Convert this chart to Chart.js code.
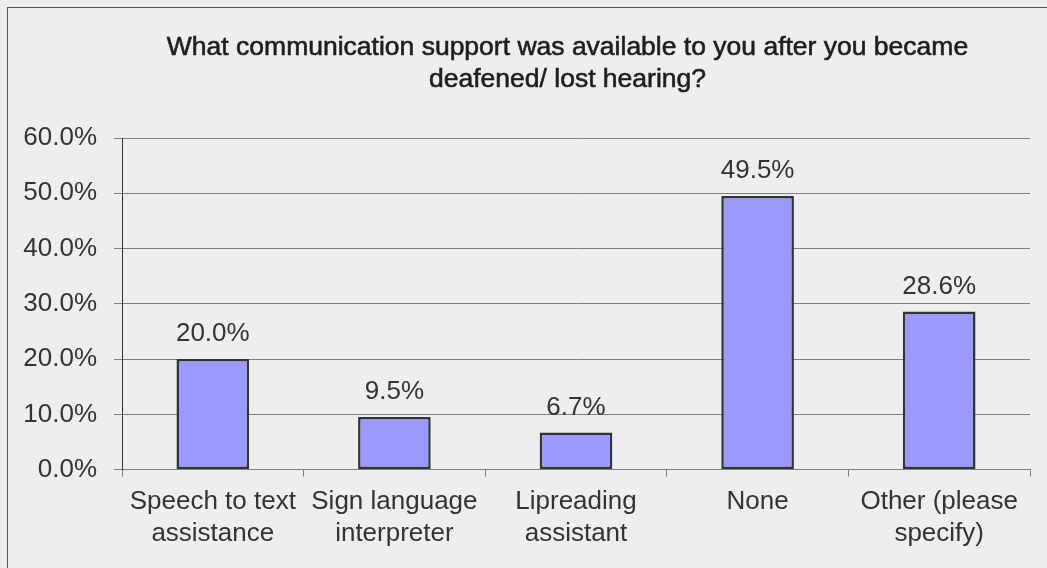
<!DOCTYPE html>
<html><head><meta charset="utf-8">
<script src="https://cdn.jsdelivr.net/npm/chart.js@4.4.1/dist/chart.umd.min.js"></script>
<style>
html,body{margin:0;padding:0;background:#eeeeee;overflow:hidden;}
#wrap{position:relative;width:1047px;height:568px;}
#frame{position:absolute;left:7px;top:7px;width:1100px;height:620px;border:1px solid #555;box-sizing:border-box;pointer-events:none;}
canvas{position:absolute;left:0;top:0;}
</style></head>
<body><div id="wrap"><canvas id="c" width="1047" height="568"></canvas><div id="frame"></div></div>
<script>
const categories = [["Speech to text","assistance"],["Sign language","interpreter"],["Lipreading","assistant"],"None",["Other (please","specify)"]];
const values = [20.0, 9.5, 6.7, 49.5, 28.6];
const yTicks = [0,10,20,30,40,50,60];
const titleLines = ["What communication support was available to you after you became","deafened/ lost hearing?"];

const FONT = "'Liberation Sans', Arial, sans-serif";
const labelPlugin = {
  id:'vals',
  afterDatasetsDraw(chart){
    const ctx = chart.ctx;
    const meta = chart.getDatasetMeta(0);
    ctx.save();
    ctx.font = "26px " + FONT;
    ctx.fillStyle = "#333333";
    ctx.textAlign = "center";
    ctx.textBaseline = "alphabetic";
    meta.data.forEach((bar,i)=>{
      ctx.fillText(values[i].toFixed(1)+"%", bar.x, bar.y - 18);
    });
    ctx.restore();
  }
};
const titlePlugin = {
  id:'titleText',
  afterDraw(chart){
    const ctx = chart.ctx;
    ctx.save();
    ctx.font = "26.5px " + FONT;
    ctx.fillStyle = "#1e1e1e";
    ctx.strokeStyle = "#1e1e1e";
    ctx.lineWidth = 0.6;
    ctx.textAlign = "center";
    ctx.textBaseline = "middle";
    titleLines.forEach((t,i)=>{ ctx.fillText(t, 567.5, 48 + i*32); ctx.strokeText(t, 567.5, 48 + i*32); });
    ctx.restore();
  }
};

new Chart(document.getElementById('c'), {
  type:'bar',
  data:{labels:categories, datasets:[{data:values, backgroundColor:'#9999ff', borderColor:'#333333', borderWidth:2.5, borderSkipped:false, categoryPercentage:0.8, barPercentage:0.5}]},
  options:{
    responsive:false, animation:false,
    layout:{padding:{left:0,right:17,top:138,bottom:9}},
    plugins:{ legend:{display:false}, tooltip:{enabled:false}, title:{display:false} },
    scales:{
      x:{
        grid:{display:true, drawOnChartArea:false, color:'#808080', tickLength:7, offset:true},
        border:{display:true, color:'#808080', width:1},
        ticks:{color:'#333333', font:{family:FONT, size:26, lineHeight:1.2}, maxRotation:0, autoSkip:false, padding:10}
      },
      y:{
        min:0, max:60,
        afterBuildTicks(scale){ scale.ticks = yTicks.map(v=>({value:v})); },
        afterFit(scale){ scale.width = 122; },
        grid:{color:'#808080', tickLength:8},
        border:{display:true, color:'#333333', width:1},
        ticks:{color:'#333333', font:{family:FONT, size:26}, padding:17, callback:v=>v.toFixed(1)+'%'}
      }
    }
  },
  plugins:[labelPlugin, titlePlugin]
});
</script></body></html>
